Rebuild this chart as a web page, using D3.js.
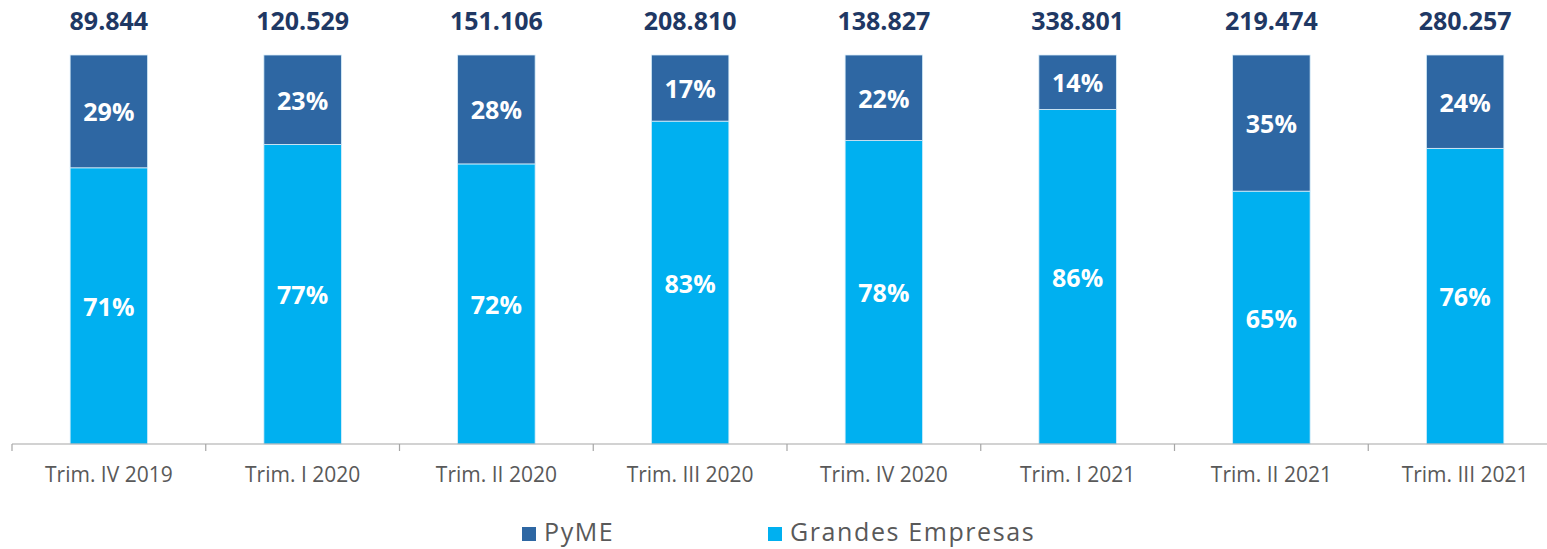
<!DOCTYPE html>
<html lang="es">
<head>
<meta charset="UTF-8">
<title>PyME vs Grandes Empresas</title>
<script src="https://cdn.jsdelivr.net/npm/d3@7"></script>
<style>
  body { margin: 0; background: #fff; }
  svg { display: block; font-family: "Open Sans", "Noto Sans", sans-serif; }
</style>
</head>
<body>
<svg width="1547" height="549"></svg>
<script>
// datos
var categories = ["Trim. IV 2019", "Trim. I 2020", "Trim. II 2020", "Trim. III 2020",
                  "Trim. IV 2020", "Trim. I 2021", "Trim. II 2021", "Trim. III 2021"];
var totals = ["89.844", "120.529", "151.106", "208.810", "138.827", "338.801", "219.474", "280.257"];
var pyme = [29, 23, 28, 17, 22, 14, 35, 24];
var grandes = [71, 77, 72, 83, 78, 86, 65, 76];
var seriesNames = ["PyME", "Grandes Empresas"];
var colors = { "PyME": "#2E67A3", "Grandes Empresas": "#00B0F0" };

var svg = d3.select("svg");
var margin = { top: 55, bottom: 105, left: 12 };

var x = d3.scaleBand().domain(categories).range([margin.left, 1562]).paddingInner(0.6).paddingOuter(0.3);
var y = d3.scaleLinear().domain([0, 100]).range([444, margin.top]);

// filas para el stack (Grandes abajo, PyME arriba)
var rows = categories.map(function (c, i) {
  return { cat: c, "Grandes Empresas": grandes[i], "PyME": pyme[i] };
});
var stack = d3.stack().keys(["Grandes Empresas", "PyME"]);
var layers = stack(rows);

var g = svg.append("g");

layers.forEach(function (layer) {
  var key = layer.key;
  var lg = g.append("g");
  lg.selectAll("rect").data(layer).enter().append("rect")
    .attr("x", d => x(d.data.cat))
    .attr("width", x.bandwidth())
    .attr("y", d => y(d[1]))
    .attr("height", d => y(d[0]) - y(d[1]))
    .attr("fill", colors[key])
    .attr("stroke", "#d9eefa")
    .attr("stroke-width", 0.8);

  lg.selectAll("text").data(layer).enter().append("text")
    .attr("x", d => x(d.data.cat) + x.bandwidth() / 2)
    .attr("y", d => (y(d[0]) + y(d[1])) / 2 + 1)
    .attr("dy", "0.36em")
    .attr("text-anchor", "middle")
    .attr("fill", "#fff")
    .attr("font-weight", "bold")
    .attr("font-size", 25)
    .text(d => d.data[key] + "%");
});

// totales
g.append("g").selectAll("text").data(categories).enter().append("text")
  .attr("x", d => x(d) + x.bandwidth() / 2)
  .attr("y", 21)
  .attr("dy", "0.36em")
  .attr("text-anchor", "middle")
  .attr("fill", "#1F3864")
  .attr("font-weight", "bold")
  .attr("font-size", 25)
  .text((d, i) => totals[i]);

// eje x
var axisY = 444;
svg.append("line")
  .attr("x1", margin.left).attr("x2", 1547)
  .attr("y1", axisY).attr("y2", axisY)
  .attr("stroke", "#a6a6a6").attr("stroke-width", 1.2);

var step = x.step();
var tickPos = categories.map(c => x(c) + x.bandwidth() / 2 - step / 2);
svg.append("g").selectAll("line").data(tickPos).enter().append("line")
  .attr("x1", d => d).attr("x2", d => d)
  .attr("y1", axisY).attr("y2", axisY + 7)
  .attr("stroke", "#a6a6a6").attr("stroke-width", 1.2);

svg.append("g").selectAll("text").data(categories).enter().append("text")
  .attr("x", d => x(d) + x.bandwidth() / 2)
  .attr("y", 474)
  .attr("dy", "0.36em")
  .attr("text-anchor", "middle")
  .attr("fill", "#595959")
  .attr("font-size", 21)
  .text(d => d);

// leyenda
var legendX = [522, 768];
var leg = svg.append("g").selectAll("g").data(seriesNames).enter().append("g")
  .attr("transform", (d, i) => `translate(${legendX[i]},533)`);
leg.append("rect").attr("x", 0).attr("y", -6).attr("width", 14).attr("height", 14)
  .attr("fill", d => colors[d]);
leg.append("text").attr("x", 22).attr("y", 0).attr("dy", "0.3em")
  .attr("fill", "#595959").attr("font-size", 25)
  .attr("letter-spacing", 1.6)
  .text(d => d);
</script>
</body>
</html>
